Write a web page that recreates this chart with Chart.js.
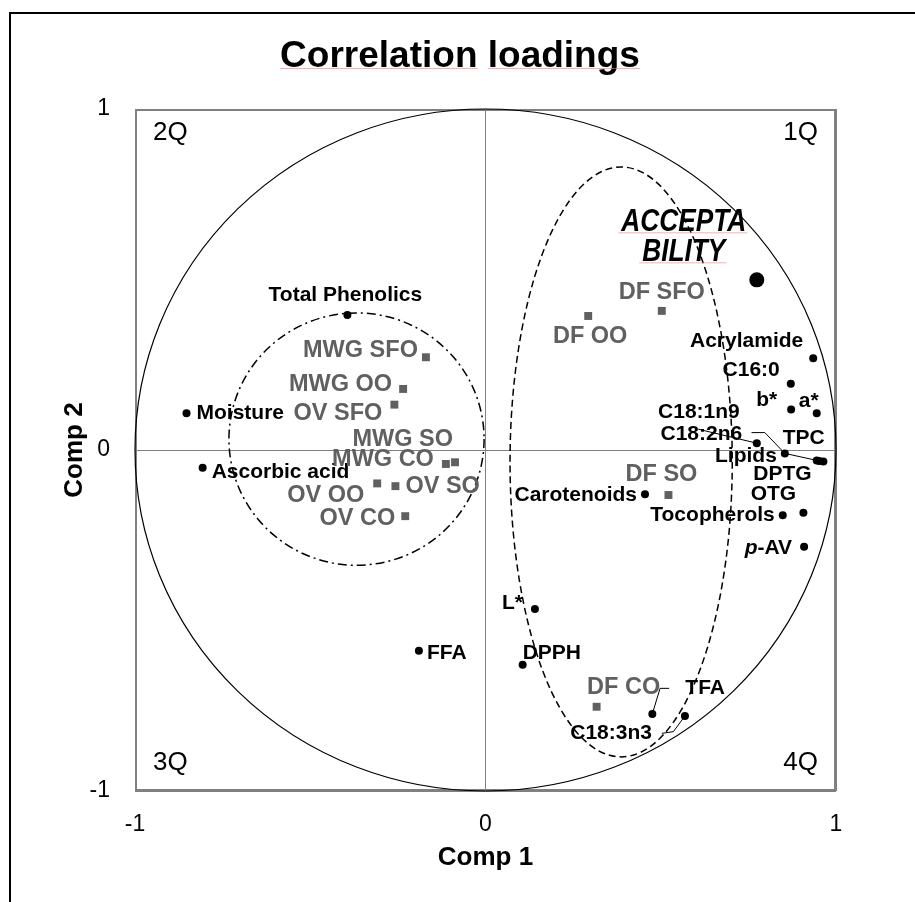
<!DOCTYPE html>
<html>
<head>
<meta charset="utf-8">
<script src="https://cdn.jsdelivr.net/npm/chart.js@4.4.0/dist/chart.umd.min.js"></script>
<style>
  html, body { margin: 0; padding: 0; background: #fff; overflow: hidden; }
</style>
</head>
<body>
<canvas id="chart" width="915" height="902"></canvas>
<script>
// DATA (correlation loadings)
const varNames = ['Total Phenolics', 'Moisture', 'Ascorbic acid', 'FFA', 'L*', 'DPPH', 'TFA', 'C18:3n3',
  'Carotenoids', 'Tocopherols', 'OTG', 'p-AV', 'C18:1n9', 'Lipids', 'TPC', 'DPTG', 'C18:2n6',
  'a*', 'b*', 'C16:0', 'Acrylamide'];
const varComp1 = [-0.394, -0.853, -0.807, -0.190, 0.141, 0.106, 0.476, 0.569,
  0.455, 0.848, 0.907, 0.909, 0.774, 0.854, 0.945, 0.964, 0.952,
  0.945, 0.872, 0.871, 0.935];
const varComp2 = [0.396, 0.108, -0.052, -0.589, -0.466, -0.630, -0.774, -0.780,
  -0.130, -0.191, -0.184, -0.284, 0.020, -0.010, -0.031, -0.034, -0.032,
  0.108, 0.119, 0.194, 0.269];

const sampleNames = ['MWG SFO', 'MWG OO', 'OV SFO', 'MWG SO', 'MWG CO', 'OV OO', 'OV SO', 'OV CO',
  'DF SFO', 'DF OO', 'DF SO', 'DF CO'];
const sampleComp1 = [-0.170, -0.235, -0.260, -0.087, -0.113, -0.309, -0.257, -0.229,
  0.503, 0.293, 0.522, 0.317];
const sampleComp2 = [0.272, 0.179, 0.133, -0.036, -0.041, -0.098, -0.106, -0.194,
  0.408, 0.393, -0.132, -0.753];

const acceptName = ['ACCEPTA', 'BILITY'];
const acceptComp1 = [0.774];
const acceptComp2 = [0.499];

const xTickLabels = ['-1', '0', '1'];
const yTickLabels = ['-1', '0', '1'];
const quadrantNames = ['2Q', '1Q', '3Q', '4Q'];

// guide ellipses: unit circle, dash-dot group, dashed group (data units)
const ellipseCx = [0, -0.368, 0.387];
const ellipseCy = [0, 0.032, -0.035];
const ellipseRx = [1, 0.364, 0.317];
const ellipseRy = [1, 0.370, 0.865];

// leader lines in data units
const leaders = [
  [[0.607, 0.061], [0.774, 0.020]],
  [[0.759, 0.051], [0.797, 0.051], [0.854, -0.010], [0.952, -0.032]],
  [[0.524, -0.699], [0.498, -0.699], [0.476, -0.774]],
  [[0.503, -0.831], [0.536, -0.826], [0.569, -0.780]]
];

// LABEL LAYOUT (pixel offsets from each marker)
const varDx = [-2, 10, 9, 8, -12, 0, 33, -33, -8, -8, -30, -12, -17, -8, -13, -41, -77, -8, -14, -11, -10];
const varDy = [-20, 0, 4, 2, -6, -12, -26, 17, 1, 0, -19, 1, -31, 3, -22, 13, -27, -12, -9, -14, -17];
const varAlign = ['center', 'left', 'left', 'left', 'right', 'left', 'left', 'right', 'right', 'right',
  'center', 'right', 'right', 'right', 'center', 'center', 'right', 'center', 'right', 'right', 'right'];
const sampleDx = [-8, -11, -12, -2, -12, -13, 10, -10, 0, 2, -7, 27];
const sampleDy = [-7, -4, 9, -23, -4, 12, 0, 2, -18, 21, -20, -19];
const sampleAlign = ['right', 'right', 'right', 'right', 'right', 'right', 'left', 'right',
  'center', 'center', 'center', 'center'];

const FONT = "'Liberation Sans', Arial, sans-serif";
const GREY = '#606060';

function drawLabel(ctx, text, x, y, align) {
  ctx.textAlign = align;
  if (text.startsWith('p-')) {
    // italic p followed by upright -AV
    const rest = text.slice(1);
    const w = ctx.measureText(rest).width;
    ctx.textAlign = 'right';
    ctx.fillText(rest, x, y);
    ctx.font = 'italic bold 21px ' + FONT;
    ctx.fillText('p', x - w, y);
    ctx.font = 'bold 21px ' + FONT;
    return;
  }
  ctx.fillText(text, x, y);
}

const overlay = {
  id: 'overlay',
  beforeDraw(chart) {
    const ctx = chart.ctx;
    ctx.save();
    ctx.fillStyle = '#fff';
    ctx.fillRect(0, 0, chart.width, chart.height);
    // outer black frame (runs off the right and bottom edge)
    ctx.strokeStyle = '#000';
    ctx.lineWidth = 2;
    ctx.beginPath();
    ctx.moveTo(chart.width + 5, 13);
    ctx.lineTo(10, 13);
    ctx.lineTo(10, chart.height + 5);
    ctx.stroke();
    ctx.restore();
  },
  beforeDatasetsDraw(chart) {
    const ctx = chart.ctx;
    const xs = chart.scales.x, ys = chart.scales.y;
    const area = chart.chartArea;
    ctx.save();
    // plot frame
    ctx.strokeStyle = '#808080';
    ctx.lineWidth = 2;
    ctx.strokeRect(area.left + 1, area.top + 1, area.right - area.left - 2, area.bottom - area.top - 2);
    const dashes = [[], [9, 4, 2, 4], [7, 4]];
    const widths = [1.2, 1.5, 1.5];
    for (let i = 0; i < ellipseCx.length; i++) {
      const cx = xs.getPixelForValue(ellipseCx[i]);
      const cy = ys.getPixelForValue(ellipseCy[i]);
      const rx = Math.abs(xs.getPixelForValue(ellipseCx[i] + ellipseRx[i]) - cx);
      const ry = Math.abs(ys.getPixelForValue(ellipseCy[i] + ellipseRy[i]) - cy);
      ctx.beginPath();
      ctx.setLineDash(dashes[i]);
      ctx.lineWidth = widths[i];
      ctx.strokeStyle = '#000';
      ctx.ellipse(cx, cy, rx, ry, 0, 0, Math.PI * 2);
      ctx.stroke();
    }
    ctx.setLineDash([]);
    // quadrant names
    ctx.fillStyle = '#000';
    ctx.font = '26px ' + FONT;
    ctx.textBaseline = 'middle';
    ctx.textAlign = 'left';
    ctx.fillText(quadrantNames[0], area.left + 18, area.top + 24);
    ctx.fillText(quadrantNames[2], area.left + 18, area.bottom - 28);
    ctx.textAlign = 'right';
    ctx.fillText(quadrantNames[1], area.right - 18, area.top + 24);
    ctx.fillText(quadrantNames[3], area.right - 18, area.bottom - 28);
    ctx.restore();
  },
  afterDatasetsDraw(chart) {
    const ctx = chart.ctx;
    const xs = chart.scales.x, ys = chart.scales.y;
    ctx.save();
    // leader lines
    ctx.strokeStyle = '#000';
    ctx.lineWidth = 1;
    leaders.forEach(line => {
      ctx.beginPath();
      line.forEach((p, k) => {
        const px = xs.getPixelForValue(p[0]), py = ys.getPixelForValue(p[1]);
        if (k === 0) ctx.moveTo(px, py); else ctx.lineTo(px, py);
      });
      ctx.stroke();
    });
    ctx.textBaseline = 'middle';
    // variable labels
    ctx.fillStyle = '#000';
    ctx.font = 'bold 21px ' + FONT;
    chart.getDatasetMeta(0).data.forEach((pt, i) => {
      drawLabel(ctx, varNames[i], pt.x + varDx[i], pt.y + varDy[i], varAlign[i]);
    });
    // sample labels
    ctx.fillStyle = GREY;
    ctx.font = 'bold 23.5px ' + FONT;
    chart.getDatasetMeta(1).data.forEach((pt, i) => {
      ctx.textAlign = sampleAlign[i];
      ctx.fillText(sampleNames[i], pt.x + sampleDx[i], pt.y + sampleDy[i]);
    });
    // acceptability label (narrow bold italic)
    const acc = chart.getDatasetMeta(2).data[0];
    ctx.fillStyle = '#000';
    ctx.textBaseline = 'alphabetic';
    ctx.textAlign = 'center';
    ctx.font = 'italic bold 32px ' + FONT;
    const base = [-48.5, -18.5];
    acceptName.forEach((t, k) => {
      const cx = acc.x - 73, by = acc.y + base[k];
      ctx.save();
      ctx.translate(cx, by);
      ctx.scale(0.82, 1);
      ctx.fillText(t, 0, 0);
      const w = ctx.measureText(t).width;
      ctx.restore();
      ctx.strokeStyle = 'rgba(240,120,120,0.6)';
      ctx.lineWidth = 1;
      ctx.beginPath();
      ctx.moveTo(cx - w * 0.41 - 3, by + 1.5);
      ctx.lineTo(cx + w * 0.41 + 1, by + 1.5);
      ctx.stroke();
    });
    ctx.restore();
  },
  afterDraw(chart) {
    const ctx = chart.ctx;
    ctx.save();
    ctx.fillStyle = '#000';
    ctx.font = 'bold 37px ' + FONT;
    ctx.textAlign = 'left';
    ctx.textBaseline = 'alphabetic';
    const title = 'Correlation loadings';
    const tw = ctx.measureText(title).width;
    const tx = 460 - tw / 2, ty = 67;
    ctx.fillText(title, tx, ty);
    // spell-check squiggle under each word
    const w1 = ctx.measureText('Correlation').width;
    const w2 = ctx.measureText('Correlation ').width;
    ctx.strokeStyle = 'rgba(240,120,120,0.6)';
    ctx.lineWidth = 1;
    ctx.beginPath();
    ctx.moveTo(tx, ty + 1.5); ctx.lineTo(tx + w1, ty + 1.5);
    ctx.moveTo(tx + w2, ty + 1.5); ctx.lineTo(tx + tw, ty + 1.5);
    ctx.stroke();
    ctx.restore();
  }
};

const ctx = document.getElementById('chart').getContext('2d');
new Chart(ctx, {
  type: 'scatter',
  data: {
    datasets: [
      {
        label: 'Variables',
        data: varComp1.map((v, i) => ({ x: v, y: varComp2[i] })),
        pointStyle: 'circle', pointRadius: 4, backgroundColor: '#000', borderWidth: 0
      },
      {
        label: 'Samples',
        data: sampleComp1.map((v, i) => ({ x: v, y: sampleComp2[i] })),
        pointStyle: 'rect', pointRadius: 5.6, backgroundColor: GREY, borderWidth: 0
      },
      {
        label: 'Acceptability',
        data: acceptComp1.map((v, i) => ({ x: v, y: acceptComp2[i] })),
        pointStyle: 'circle', pointRadius: 7.5, backgroundColor: '#000', borderWidth: 0
      }
    ]
  },
  options: {
    responsive: false,
    animation: false,
    devicePixelRatio: 1,
    layout: { padding: { top: 109, right: 79, left: 0, bottom: 0 } },
    plugins: { legend: { display: false }, tooltip: { enabled: false }, title: { display: false } },
    scales: {
      x: {
        type: 'linear', min: -1, max: 1,
        afterFit(s) { s.height = 111; },
        ticks: {
          stepSize: 1, padding: 20, color: '#000',
          font: { family: FONT, size: 23 },
          callback: v => xTickLabels[Math.round(v) + 1]
        },
        grid: { color: '#808080', lineWidth: 1, drawTicks: false },
        border: { display: false },
        title: {
          display: true, text: 'Comp 1', color: '#000',
          font: { family: FONT, size: 26, weight: 'bold' },
          padding: { top: 0, bottom: 29 }
        }
      },
      y: {
        type: 'linear', min: -1, max: 1,
        afterFit(s) { s.width = 135; },
        ticks: {
          stepSize: 1, padding: 25, color: '#000',
          font: { family: FONT, size: 23 },
          callback: v => yTickLabels[Math.round(v) + 1]
        },
        grid: { color: '#808080', lineWidth: 1, drawTicks: false },
        border: { display: false },
        title: {
          display: true, text: 'Comp 2', color: '#000',
          font: { family: FONT, size: 26, weight: 'bold' },
          padding: { top: 59, bottom: 0 }
        }
      }
    }
  },
  plugins: [overlay]
});
</script>
</body>
</html>
